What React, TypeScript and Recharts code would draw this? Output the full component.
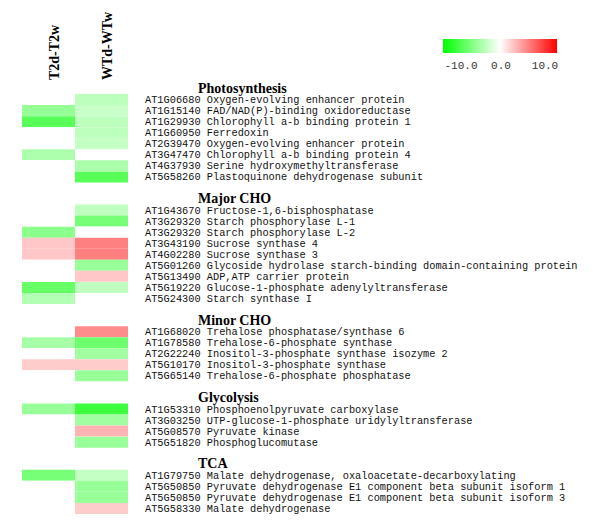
import { Bar, BarChart, Cell, XAxis, YAxis } from "recharts";

const columns = ["T2d-T2w", "WTd-WTw"];
const groups = ["Photosynthesis", "Major CHO", "Minor CHO", "Glycolysis", "TCA"];

const photoGenes = [
  "AT1G06680 Oxygen-evolving enhancer protein",
  "AT1G15140 FAD/NAD(P)-binding oxidoreductase",
  "AT1G29930 Chlorophyll a-b binding protein 1",
  "AT1G60950 Ferredoxin",
  "AT2G39470 Oxygen-evolving enhancer protein",
  "AT3G47470 Chlorophyll a-b binding protein 4",
  "AT4G37930 Serine hydroxymethyltransferase",
  "AT5G58260 Plastoquinone dehydrogenase subunit",
];
const photoT2 = [0, -4.1, -6.5, 0, 0, -3.2, 0, 0];
const photoWT = [-2.6, -2.1, -2.6, -2.6, -2.3, 0, -3.3, -6.5];

const majorGenes = [
  "AT1G43670 Fructose-1,6-bisphosphatase",
  "AT3G29320 Starch phosphorylase L-1",
  "AT3G29320 Starch phosphorylase L-2",
  "AT3G43190 Sucrose synthase 4",
  "AT4G02280 Sucrose synthase 3",
  "AT5G01260 Glycoside hydrolase starch-binding domain-containing protein",
  "AT5G13490 ADP,ATP carrier protein",
  "AT5G19220 Glucose-1-phosphate adenylyltransferase",
  "AT5G24300 Starch synthase I",
];
const majorT2 = [0, 0, -4.5, 2.2, 2.2, 0, 0, -6, -3];
const majorWT = [-2.5, -5.3, 0, 5, 5, -4, 2.2, -2.5, 0];

const minorGenes = [
  "AT1G68020 Trehalose phosphatase/synthase 6",
  "AT1G78580 Trehalose-6-phosphate synthase",
  "AT2G22240 Inositol-3-phosphate synthase isozyme 2",
  "AT5G10170 Inositol-3-phosphate synthase",
  "AT5G65140 Trehalose-6-phosphate phosphatase",
];
const minorT2 = [0, -3.5, 0, 2, 0];
const minorWT = [4.5, -5.7, -3.7, 2, -4];

const glycoGenes = [
  "AT1G53310 Phosphoenolpyruvate carboxylase",
  "AT3G03250 UTP-glucose-1-phosphate uridylyltransferase",
  "AT5G08570 Pyruvate kinase",
  "AT5G51820 Phosphoglucomutase",
];
const glycoT2 = [-4, 0, 0, 0];
const glycoWT = [-7.6, -3.7, 3, -4];

const tcaGenes = [
  "AT1G79750 Malate dehydrogenase, oxaloacetate-decarboxylating",
  "AT5G50850 Pyruvate dehydrogenase E1 component beta subunit isoform 1",
  "AT5G50850 Pyruvate dehydrogenase E1 component beta subunit isoform 3",
  "AT5G58330 Malate dehydrogenase",
];
const tcaT2 = [-5.3, 0, 0, 0];
const tcaWT = [-2.3, -4, -4, 2];

const legendTicks = ["-10.0", "0.0", "10.0"];

const groupData = [
  [photoGenes, photoT2, photoWT],
  [majorGenes, majorT2, majorWT],
  [minorGenes, minorT2, minorWT],
  [glycoGenes, glycoT2, glycoWT],
  [tcaGenes, tcaT2, tcaWT],
] as [string[], number[], number[]][];

type Row = { id: string; kind: "gene" | "header" | "blank"; text: string; t2?: number; wt?: number };

// one row per slot: blank spacer, group heading, then genes
const rows: Row[] = [];
groups.forEach((g, gi) => {
  if (gi > 0) rows.push({ id: `blank${gi}`, kind: "blank", text: "" });
  rows.push({ id: `head${gi}`, kind: "header", text: g });
  const [genes, t2, wt] = groupData[gi];
  genes.forEach((gene, i) =>
    rows.push({ id: `${gi}-${i}`, kind: "gene", text: gene, t2: t2[i], wt: wt[i] })
  );
});

function heat(v: number) {
  const t = Math.min(Math.abs(v) / 10, 1);
  const c = Math.round(255 * (1 - t));
  return v < 0 ? `rgb(${c},255,${c})` : `rgb(255,${c},${c})`;
}

const RowTick = ({ y, index }: any) => {
  const r = rows[index];
  if (!r || r.kind === "blank") return null;
  if (r.kind === "header") {
    return (
      <text x={198} y={y} dy={4} fontFamily="'Liberation Serif', serif" fontWeight="bold" fontSize={14} fill="#000">
        {r.text}
      </text>
    );
  }
  return (
    <text x={145} y={y} dy={3.5} fontFamily="'Liberation Mono', 'Courier New', monospace" fontSize={10.3} fill="#111">
      {r.text}
    </text>
  );
};

const ColTick = ({ x, index }: any) => (
  <text
    x={x + 10}
    y={80}
    textAnchor="start"
    transform={`rotate(-90, ${x + 10}, 80)`}
    fontFamily="'Liberation Serif', serif"
    fontWeight="bold"
    fontSize={14}
    fill="#000"
  >
    {columns[index]}
  </text>
);

export default function App() {
  return (
    <div style={{ position: "absolute", left: 0, top: 0, width: 600, height: 529, background: "#fff" }}>
      <BarChart
        width={600}
        height={529}
        data={rows}
        layout="vertical"
        barCategoryGap={0}
        barGap={0}
        margin={{ top: 0, right: 0, bottom: 15, left: 22 }}
      >
        <XAxis
          type="number"
          orientation="top"
          domain={[0, 2]}
          ticks={[0.5, 1.5]}
          height={83}
          axisLine={false}
          tickLine={false}
          tick={<ColTick />}
        />
        <YAxis
          type="category"
          dataKey="id"
          orientation="right"
          width={472}
          interval={0}
          axisLine={false}
          tickLine={false}
          tick={<RowTick />}
        />
        <Bar dataKey={(r: Row) => (r.kind === "gene" ? 1 : null)} stackId="s" isAnimationActive={false}>
          {rows.map((r) => (
            <Cell key={r.id} fill={r.kind === "gene" ? heat(r.t2 as number) : "none"} />
          ))}
        </Bar>
        <Bar dataKey={(r: Row) => (r.kind === "gene" ? 1 : null)} stackId="s" isAnimationActive={false}>
          {rows.map((r) => (
            <Cell key={r.id} fill={r.kind === "gene" ? heat(r.wt as number) : "none"} />
          ))}
        </Bar>
      </BarChart>
      <svg width={600} height={529} style={{ position: "absolute", left: 0, top: 0, pointerEvents: "none" }}>
        <defs>
          <linearGradient id="scale" x1="0" x2="1" y1="0" y2="0">
            <stop offset="0%" stopColor="#00ff00" />
            <stop offset="50%" stopColor="#ffffff" />
            <stop offset="100%" stopColor="#ff0000" />
          </linearGradient>
        </defs>
        <rect x={443} y={39} width={114} height={14} fill="url(#scale)" />
        {legendTicks.map((t, i) => (
          <text
            key={t}
            x={[461, 501, 545][i]}
            y={69}
            textAnchor="middle"
            fontFamily="'Liberation Mono', 'Courier New', monospace"
            fontSize={11}
            fill="#333"
          >
            {t}
          </text>
        ))}
      </svg>
    </div>
  );
}
